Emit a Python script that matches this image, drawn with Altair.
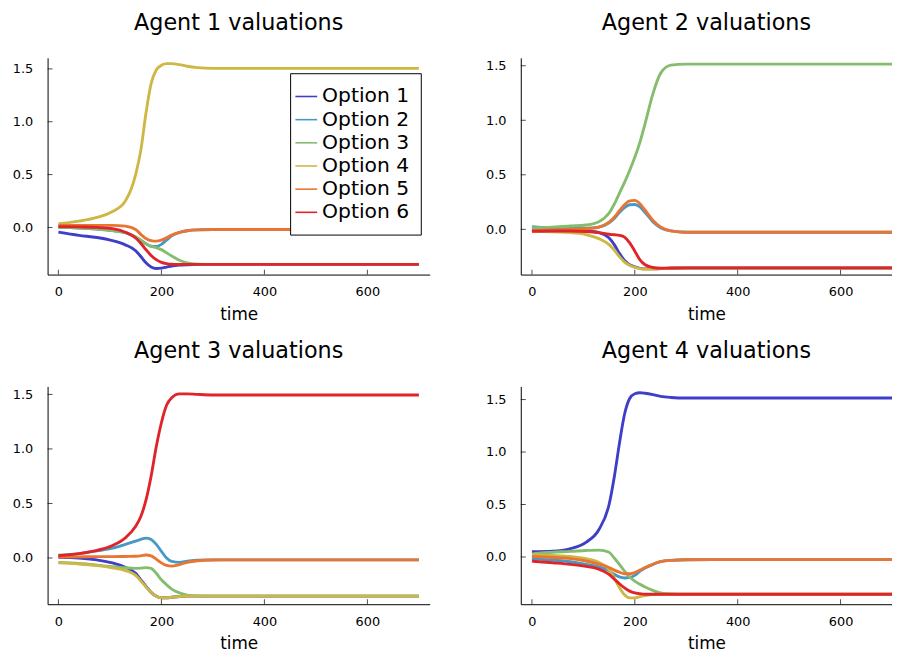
import altair as alt
import pandas as pd

TIME = [0, 40, 75, 105, 130, 150, 160, 170, 180, 190, 200, 210, 220, 235, 250, 270, 300, 350, 700]
OPTIONS = ["Option 1", "Option 2", "Option 3", "Option 4", "Option 5", "Option 6"]
COLORS = ["#3e3ec8", "#4699c4", "#85bd6f", "#cdb845", "#ea7431", "#e0252a"]
X_TICKS = [0, 200, 400, 600]
Y_TICKS = [0.0, 0.5, 1.0, 1.5]
TITLES = ["Agent 1 valuations", "Agent 2 valuations", "Agent 3 valuations", "Agent 4 valuations"]

AGENT1 = [
    [-0.045, -0.075, -0.095, -0.125, -0.165, -0.22, -0.275, -0.335, -0.375, -0.388, -0.385, -0.375, -0.365, -0.357, -0.353, -0.35, -0.35, -0.35, -0.35],
    [0.0, -0.005, -0.015, -0.03, -0.05, -0.09, -0.12, -0.155, -0.178, -0.18, -0.16, -0.12, -0.08, -0.048, -0.031, -0.023, -0.02, -0.02, -0.02],
    [0.0, -0.005, -0.015, -0.03, -0.05, -0.09, -0.12, -0.155, -0.18, -0.19, -0.21, -0.24, -0.27, -0.31, -0.335, -0.347, -0.35, -0.35, -0.35],
    [0.035, 0.06, 0.095, 0.15, 0.25, 0.5, 0.73, 1.08, 1.36, 1.49, 1.535, 1.55, 1.55, 1.54, 1.525, 1.512, 1.505, 1.505, 1.505],
    [0.02, 0.02, 0.02, 0.02, 0.012, -0.02, -0.065, -0.105, -0.125, -0.13, -0.12, -0.098, -0.073, -0.047, -0.031, -0.023, -0.02, -0.02, -0.02],
    [0.008, 0.005, 0.0, -0.012, -0.045, -0.1, -0.15, -0.21, -0.265, -0.305, -0.33, -0.342, -0.348, -0.35, -0.35, -0.35, -0.35, -0.35, -0.35],
]
AGENT2 = [
    [-0.005, -0.008, -0.01, -0.015, -0.03, -0.08, -0.14, -0.22, -0.285, -0.325, -0.345, -0.358, -0.363, -0.363, -0.36, -0.357, -0.355, -0.355, -0.355],
    [0.025, 0.012, 0.01, 0.01, 0.02, 0.06, 0.1, 0.155, 0.2, 0.225, 0.228, 0.205, 0.155, 0.07, 0.015, -0.015, -0.027, -0.027, -0.027],
    [0.015, 0.02, 0.03, 0.04, 0.07, 0.15, 0.23, 0.33, 0.43, 0.54, 0.66, 0.8, 0.97, 1.24, 1.43, 1.505, 1.515, 1.515, 1.515],
    [-0.015, -0.024, -0.03, -0.048, -0.085, -0.14, -0.19, -0.25, -0.3, -0.33, -0.35, -0.36, -0.365, -0.365, -0.36, -0.357, -0.355, -0.355, -0.355],
    [-0.01, -0.005, 0.0, 0.005, 0.02, 0.065, 0.11, 0.17, 0.225, 0.26, 0.265, 0.235, 0.175, 0.083, 0.022, -0.015, -0.027, -0.027, -0.027],
    [-0.018, -0.015, -0.015, -0.02, -0.03, -0.045, -0.05, -0.055, -0.072, -0.125, -0.2, -0.28, -0.325, -0.35, -0.357, -0.355, -0.353, -0.353, -0.353],
]
AGENT3 = [
    [0.005, 0.0, -0.018, -0.045, -0.085, -0.14, -0.2, -0.26, -0.315, -0.35, -0.365, -0.365, -0.36, -0.353, -0.35, -0.35, -0.35, -0.35, -0.35],
    [0.025, 0.04, 0.065, 0.09, 0.125, 0.155, 0.17, 0.182, 0.17, 0.125, 0.06, 0.0, -0.032, -0.04, -0.03, -0.02, -0.017, -0.017, -0.017],
    [-0.04, -0.05, -0.065, -0.08, -0.09, -0.095, -0.093, -0.088, -0.095, -0.14, -0.2, -0.245, -0.285, -0.32, -0.34, -0.348, -0.35, -0.35, -0.35],
    [-0.045, -0.055, -0.07, -0.09, -0.115, -0.16, -0.21, -0.265, -0.315, -0.35, -0.365, -0.365, -0.36, -0.353, -0.35, -0.35, -0.35, -0.35, -0.35],
    [0.008, 0.01, 0.012, 0.012, 0.014, 0.016, 0.02, 0.027, 0.02, -0.01, -0.045, -0.068, -0.075, -0.06, -0.04, -0.025, -0.018, -0.017, -0.017],
    [0.02, 0.04, 0.07, 0.115, 0.185, 0.29, 0.38, 0.53, 0.75, 1.02, 1.24, 1.4, 1.47, 1.505, 1.505, 1.5, 1.495, 1.495, 1.495],
]
AGENT4 = [
    [0.05, 0.055, 0.08, 0.14, 0.26, 0.5, 0.76, 1.08, 1.36, 1.51, 1.555, 1.565, 1.56, 1.547, 1.53, 1.52, 1.515, 1.515, 1.515],
    [-0.016, -0.03, -0.045, -0.07, -0.095, -0.13, -0.165, -0.19, -0.2, -0.195, -0.175, -0.135, -0.105, -0.07, -0.045, -0.032, -0.026, -0.025, -0.025],
    [0.03, 0.045, 0.053, 0.062, 0.066, 0.045, -0.01, -0.07, -0.135, -0.19, -0.23, -0.26, -0.286, -0.318, -0.343, -0.353, -0.355, -0.355, -0.355],
    [0.022, 0.015, 0.005, -0.015, -0.05, -0.12, -0.2, -0.29, -0.36, -0.39, -0.39, -0.377, -0.368, -0.358, -0.355, -0.355, -0.355, -0.355, -0.355],
    [0.005, -0.005, -0.015, -0.038, -0.068, -0.1, -0.125, -0.145, -0.16, -0.16, -0.148, -0.125, -0.1, -0.07, -0.045, -0.032, -0.026, -0.025, -0.025],
    [-0.04, -0.055, -0.07, -0.09, -0.115, -0.165, -0.21, -0.255, -0.295, -0.325, -0.342, -0.35, -0.355, -0.355, -0.355, -0.355, -0.355, -0.355, -0.355],
]

FONT = "DejaVu Sans"


def make_panel(values, title, xdom, ydom, width, height, show_legend):
    rows = []
    for opt, series in zip(OPTIONS, values):
        for t, v in zip(TIME, series):
            rows.append({"time": t, "value": v, "option": opt})
    df = pd.DataFrame(rows)

    xscale = alt.Scale(domain=xdom, nice=False, zero=False)
    yscale = alt.Scale(domain=ydom, nice=False, zero=False)
    xaxis = alt.Axis(values=X_TICKS, format="d", title="time", grid=False, ticks=False,
                     labelPadding=11, titlePadding=8)
    yaxis = alt.Axis(values=Y_TICKS, format=".1f", title=None, grid=False, ticks=False,
                     labelPadding=15)

    if show_legend:
        legend = alt.Legend(
            orient="none", legendX=245, legendY=15.6, title=None,
            symbolType="stroke", symbolSize=484, symbolStrokeWidth=1.6,
            labelFont=FONT, labelFontSize=20.5, labelColor="#000", labelOffset=4,
            strokeColor="#000", fillColor="#ffffff", padding=11.5, rowPadding=0.4,
            cornerRadius=0, symbolOffset=-7.2,
        )
    else:
        legend = None

    lines = alt.Chart(df).mark_line(interpolate="monotone", strokeWidth=2.9, clip=True).encode(
        x=alt.X("time:Q", scale=xscale, axis=xaxis, title="time"),
        y=alt.Y("value:Q", scale=yscale, axis=yaxis, title=None),
        color=alt.Color("option:N", scale=alt.Scale(domain=OPTIONS, range=COLORS), legend=legend),
        order=alt.Order("time:Q"),
    )

    xt = pd.DataFrame({"time": X_TICKS, "value": [ydom[0]] * len(X_TICKS)})
    xticks = alt.Chart(xt).mark_tick(orient="vertical", size=5, thickness=1, color="#000", yOffset=-2.5).encode(
        x=alt.X("time:Q", scale=xscale, axis=xaxis, title="time"),
        y=alt.Y("value:Q", scale=yscale, axis=yaxis, title=None),
    )
    yt = pd.DataFrame({"value": Y_TICKS, "time": [xdom[0]] * len(Y_TICKS)})
    yticks = alt.Chart(yt).mark_tick(orient="horizontal", size=5, thickness=1, color="#000", xOffset=2.5).encode(
        y=alt.Y("value:Q", scale=yscale, axis=yaxis, title=None),
        x=alt.X("time:Q", scale=xscale, axis=xaxis, title="time"),
    )

    return alt.layer(lines, xticks, yticks).properties(
        width=width, height=height,
        title=alt.TitleParams(title, font=FONT, fontSize=22.5, fontWeight="normal", color="#000",
                              anchor="middle", baseline="alphabetic", offset=6),
    )


XDOM_L = [-21, 721]
XDOM_R = [-21.7, 700]

p1 = make_panel(AGENT1, TITLES[0], XDOM_L, [-0.446, 1.605], 386, 219, True)
p2 = make_panel(AGENT2, TITLES[1], XDOM_R, [-0.415, 1.573], 375, 219, False)
p3 = make_panel(AGENT3, TITLES[2], XDOM_L, [-0.424, 1.573], 386, 220, False)
p4 = make_panel(AGENT4, TITLES[3], XDOM_R, [-0.45, 1.625], 375, 220, False)

chart = alt.concat(
    p1, p2, p3, p4, columns=2, spacing={"row": 113, "column": 92}, bounds="flush"
).resolve_scale(
    color="independent", x="independent", y="independent"
).resolve_legend(color="independent").properties(
    padding={"left": 4, "top": 0, "right": 0, "bottom": 0}
).configure_view(stroke=None).configure_axis(
    domainColor="#000", domainWidth=1, labelFont=FONT, labelFontSize=13, labelColor="#000",
    titleFont=FONT, titleFontSize=17, titleFontWeight="normal", titleColor="#000",
)

chart.save("out.html", embed_options={"renderer": "svg", "actions": False})
